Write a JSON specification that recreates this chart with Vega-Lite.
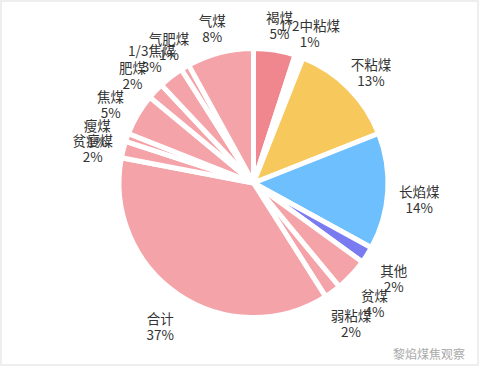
{
  "$schema": "https://vega.github.io/schema/vega-lite/v6.json",
  "width": 480,
  "height": 379,
  "autosize": {"type": "fit", "contains": "padding"},
  "padding": {"left": 1, "top": 1, "right": 2, "bottom": 14},
  "background": "white",
  "view": {"stroke": "#eeeeee", "strokeWidth": 2, "fill": "white"},
  "config": {
    "view": {"stroke": "#eeeeee", "strokeWidth": 2},
    "font": "Noto Sans CJK SC"
  },
  "title": {
    "text": "黎焰煤焦观察",
    "orient": "bottom",
    "anchor": "end",
    "offset": -15,
    "dx": -13,
    "fontSize": 12,
    "fontWeight": "normal",
    "color": "#aaaaaa",
    "font": "Noto Sans CJK SC"
  },
  "data": {
    "values": [
      {"idx": 1, "name": "褐煤", "value": 5, "label": "褐煤\n5%"},
      {"idx": 2, "name": "1/2中粘煤", "value": 1, "label": "1/2中粘煤\n1%"},
      {"idx": 3, "name": "不粘煤", "value": 13, "label": "不粘煤\n13%"},
      {"idx": 4, "name": "长焰煤", "value": 14, "label": "长焰煤\n14%"},
      {"idx": 5, "name": "其他", "value": 2, "label": "其他\n2%"},
      {"idx": 6, "name": "贫煤", "value": 4, "label": "贫煤\n4%"},
      {"idx": 7, "name": "弱粘煤", "value": 2, "label": "弱粘煤\n2%"},
      {"idx": 8, "name": "合计", "value": 37, "label": "合计\n37%"},
      {"idx": 9, "name": "贫瘦煤", "value": 2, "label": "贫瘦煤\n2%"},
      {"idx": 10, "name": "瘦煤", "value": 1, "label": "瘦煤\n1%"},
      {"idx": 11, "name": "焦煤", "value": 5, "label": "焦煤\n5%"},
      {"idx": 12, "name": "肥煤", "value": 2, "label": "肥煤\n2%"},
      {"idx": 13, "name": "1/3焦煤", "value": 3, "label": "1/3焦煤\n3%"},
      {"idx": 14, "name": "气肥煤", "value": 1, "label": "气肥煤\n1%"},
      {"idx": 15, "name": "气煤", "value": 8, "label": "气煤\n8%"}
    ]
  },
  "encoding": {
    "theta": {"field": "value", "type": "quantitative", "stack": true},
    "order": {"field": "idx", "type": "quantitative"}
  },
  "layer": [
    {
      "mark": {"type": "arc", "outerRadius": 134.5, "stroke": "white", "strokeWidth": 5, "xOffset": 14},
      "encoding": {
        "color": {
          "field": "name",
          "type": "nominal",
          "legend": null,
          "scale": {
            "domain": ["褐煤", "1/2中粘煤", "不粘煤", "长焰煤", "其他", "贫煤", "弱粘煤", "合计", "贫瘦煤", "瘦煤", "焦煤", "肥煤", "1/3焦煤", "气肥煤", "气煤"],
            "range": ["#F0878F", "#ffffff", "#F7C95C", "#6EBFFE", "#7B7BF1", "#F4A3A8", "#F4A3A8", "#F4A3A8", "#F4A3A8", "#F4A3A8", "#F4A3A8", "#F4A3A8", "#F4A3A8", "#F4A3A8", "#F4A3A8"]
          }
        }
      }
    },
    {
      "mark": {"type": "text", "radius": 166, "xOffset": 14, "lineBreak": "\n", "fontSize": 13.5, "lineHeight": 16, "color": "#333333", "align": "center", "baseline": "middle", "font": "Noto Sans CJK SC"},
      "encoding": {
        "text": {"field": "label", "type": "nominal"}
      }
    }
  ]
}
